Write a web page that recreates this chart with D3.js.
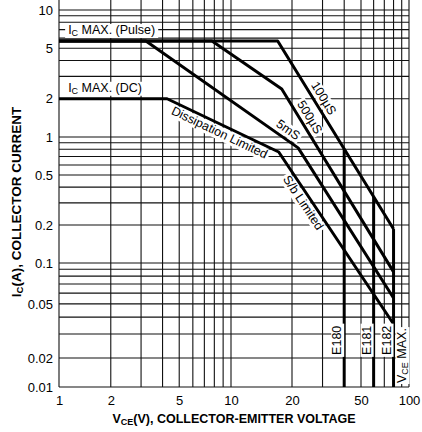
<!DOCTYPE html>
<html lang="en">
<head>
<meta charset="UTF-8">
<title>Safe Operating Area</title>
<script src="https://d3js.org/d3.v7.min.js"></script>
<style>
  body { margin: 0; background: #fff; }
  text { font-family: "Liberation Sans", Arial, sans-serif; fill: #000; }
</style>
</head>
<body>
<script>
  var width = 422
  var height = 432

  // axis breakpoints (V and A)
  var xDomain = [1, 10, 20, 50, 100]
  var yDomain = [0.01, 0.02, 0.1, 1, 10]
  var xTickLabels = [1, 2, 5, 10, 20, 50, 100]
  var yTickLabels = [10, 5, 2, 1, 0.5, 0.2, 0.1, 0.05, 0.02, 0.01]

  // curves: [Vce (V), Ic (A)]
  var pulse100us = [[1, 5.7], [17, 5.7], [80, 0.186]]
  var pulse500us = [[1, 5.7], [7.75, 5.7], [17.8, 2.39], [80, 0.086]]
  var pulse5ms   = [[1, 5.7], [3.2, 5.7], [21.7, 0.82], [80, 0.0553]]
  var dcLine     = [[1, 2], [4.25, 2], [17.2, 0.76], [80, 0.0356]]

  // Vce max of each part
  var parts = ['E180', 'E181', 'E182']
  var partVce = [40, 60, 80]

  var svg = d3.select('body').append('svg').attr('width', width).attr('height', height)

  var x = d3.scaleLog().domain(xDomain).range([59, 231, 292, 361, 409])
  var y = d3.scaleLog().domain(yDomain).range([387, 358, 263, 137, 10])
  var left = x(1), right = x(100), top = y(10), bottom = y(0.01)

  // grid
  var grid = svg.append('g').attr('stroke', '#111').attr('stroke-width', 1.1)
  grid.selectAll('line.v').data(x.ticks()).enter().append('line')
    .attr('x1', function (d) { return x(d) }).attr('x2', function (d) { return x(d) })
    .attr('y1', top).attr('y2', bottom)
  grid.selectAll('line.h').data(y.ticks()).enter().append('line')
    .attr('y1', function (d) { return y(d) }).attr('y2', function (d) { return y(d) })
    .attr('x1', left).attr('x2', right)

  // tick labels
  var xAxis = d3.axisBottom(x).tickValues(xTickLabels).tickSize(0).tickPadding(9)
    .tickFormat(function (d) { return String(d) })
  var yAxis = d3.axisLeft(y).tickValues(yTickLabels).tickSize(0).tickPadding(6)
    .tickFormat(function (d) { return String(d) })
  var gx = svg.append('g').attr('transform', 'translate(0,' + bottom + ')').call(xAxis)
  var gy = svg.append('g').attr('transform', 'translate(' + left + ',0)').call(yAxis)
  gx.select('.domain').remove()
  gy.select('.domain').remove()
  svg.selectAll('.tick text').attr('font-size', 13)
    .attr('font-family', '"Liberation Sans", Arial, sans-serif')

  // curves
  var line = d3.line().x(function (d) { return x(d[0]) }).y(function (d) { return y(d[1]) })
  var curves = [pulse100us, pulse500us, pulse5ms, dcLine]
  svg.selectAll('path.curve').data(curves).enter().append('path')
    .attr('class', 'curve').attr('d', line)
    .attr('fill', 'none').attr('stroke', '#000').attr('stroke-width', 3)
    .attr('stroke-linejoin', 'round')

  // y of a curve at pixel px
  function yOnCurve(pts, px) {
    for (var i = 0; i < pts.length - 1; i++) {
      var x0 = x(pts[i][0]), x1 = x(pts[i + 1][0])
      if (px >= x0 && px <= x1) {
        var t = (px - x0) / (x1 - x0)
        return y(pts[i][1]) + t * (y(pts[i + 1][1]) - y(pts[i][1]))
      }
    }
    return top
  }

  // Vce max verticals
  svg.selectAll('line.vce').data(partVce).enter().append('line')
    .attr('x1', function (d) { return x(d) }).attr('x2', function (d) { return x(d) })
    .attr('y1', function (d) { return yOnCurve(pulse100us, x(d)) }).attr('y2', bottom)
    .attr('stroke', '#000').attr('stroke-width', 3)

  // label group with a white box behind the text
  function label(transform, pad) {
    var g = svg.append('g').attr('transform', transform)
    var t = g.append('text').attr('font-size', 12.5)
    return { g: g, t: t, pad: pad }
  }
  function boxIt(l) {
    var b = l.t.node().getBBox()
    l.g.insert('rect', 'text').attr('x', b.x - l.pad).attr('y', b.y + 1)
      .attr('width', b.width + 2 * l.pad).attr('height', b.height - 1).attr('fill', '#fff')
  }

  // part labels (rotated)
  parts.forEach(function (p, i) {
    var l = label('translate(' + (x(partVce[i]) - 3) + ',' + y(0.027) + ') rotate(-90)', 2)
    l.t.attr('text-anchor', 'middle').text(p)
    boxIt(l)
  })
  var vm = label('translate(' + (x(partVce[2]) + 12) + ',' + (bottom - 4) + ') rotate(-90)', 1)
  vm.t.append('tspan').text('V')
  vm.t.append('tspan').attr('font-size', 9).attr('dy', 2).text('CE')
  vm.t.append('tspan').attr('dy', -2).text(' MAX.')
  boxIt(vm)

  // Ic max labels
  function icLabel(iVal, suffix) {
    var l = label('translate(' + x(1.13) + ',' + (y(iVal) - 7) + ')', 3)
    l.t.append('tspan').text('I')
    l.t.append('tspan').attr('font-size', 9).attr('dy', 2).text('C')
    l.t.append('tspan').attr('dy', -2).text(' MAX. ' + suffix)
    boxIt(l)
  }
  icLabel(pulse100us[0][1], '(Pulse)')
  icLabel(dcLine[0][1], '(DC)')

  // labels laid along a curve segment
  function along(pts, i, frac, off, txt) {
    var ax = x(pts[i][0]), ay = y(pts[i][1])
    var bx = x(pts[i + 1][0]), by = y(pts[i + 1][1])
    var ang = Math.atan2(by - ay, bx - ax) * 180 / Math.PI
    var px = ax + frac * (bx - ax), py = ay + frac * (by - ay)
    var l = label('translate(' + px + ',' + py + ') rotate(' + ang + ')', 2)
    l.t.attr('y', off).attr('text-anchor', 'middle').text(txt)
    boxIt(l)
  }
  along(pulse100us, 1, 0.33, -5, '100\u00b5S')
  along(pulse500us, 2, 0.18, -5, '500\u00b5S')
  along(pulse5ms, 1, 0.9, -5, '5mS')
  along(dcLine, 1, 0.5, 12, 'Dissipation Limited')
  along(dcLine, 2, 0.27, 12, 'S/b Limited')

  // frame
  svg.append('rect').attr('x', left).attr('y', top)
    .attr('width', right - left).attr('height', bottom - top)
    .attr('fill', 'none').attr('stroke', '#000').attr('stroke-width', 2.6)

  // axis titles
  var xt = svg.append('text').attr('x', 234).attr('y', 423)
    .attr('text-anchor', 'middle').attr('font-size', 12.5).attr('font-weight', 'bold')
  xt.append('tspan').text('V')
  xt.append('tspan').attr('font-size', 9).attr('dy', 2).text('CE')
  xt.append('tspan').attr('dy', -2).text('(V), COLLECTOR-EMITTER VOLTAGE')

  var yt = svg.append('text').attr('transform', 'translate(21,202) rotate(-90)')
    .attr('text-anchor', 'middle').attr('font-size', 13.5).attr('font-weight', 'bold')
  yt.append('tspan').text('I')
  yt.append('tspan').attr('font-size', 9.5).attr('dy', 2).text('C')
  yt.append('tspan').attr('dy', -2).text('(A), COLLECTOR CURRENT')
</script>
</body>
</html>
